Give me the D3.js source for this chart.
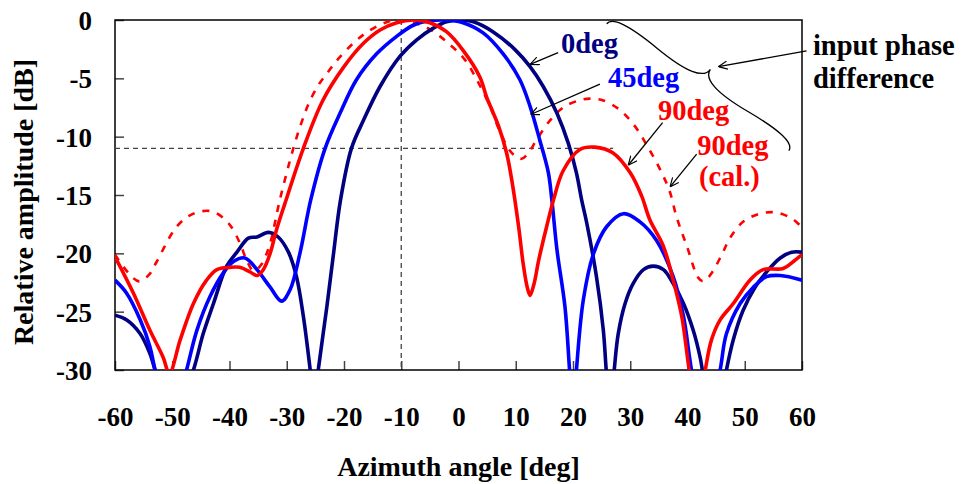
<!DOCTYPE html>
<html lang="en">
<head>
<meta charset="UTF-8">
<title>Relative amplitude vs azimuth angle</title>
<script src="https://cdn.jsdelivr.net/npm/d3@7/dist/d3.min.js"></script>
<style>
  html, body { margin: 0; padding: 0; background: #fff; }
  svg { display: block; font-family: "Liberation Serif", "Times New Roman", serif; font-weight: bold; }
</style>
</head>
<body>
<div id="chart"></div>
<script>
// ---- data (azimuth deg, relative amplitude dB) ----
const xTicks = [-60, -50, -40, -30, -20, -10, 0, 10, 20, 30, 40, 50, 60];
const yTicks = [0, -5, -10, -15, -20, -25, -30];

// 0deg input phase difference (measured)
const phase0 = [
  [-60, -25.3], [-58, -25.7], [-55.6, -26.9], [-53.9, -28.6], [-53, -30], [-49.8, -34.5], [-46.3, -30],
  [-44.6, -26.9], [-42.8, -24.3], [-40.5, -21.1], [-38.7, -19.9], [-36.7, -18.7], [-35.2, -18.6],
  [-33.2, -18.2], [-31.5, -18.6], [-29.7, -19.9], [-28.3, -22.0], [-27.1, -25.4], [-25.9, -30],
  [-25.2, -33], [-24.5, -30], [-23.0, -24.6], [-21.9, -20.3], [-20.6, -15.4], [-18.7, -11.0],
  [-16.6, -8.6], [-13.7, -5.7], [-10.2, -3.1], [-7.3, -1.7], [-4.4, -0.7], [-2.1, -0.15], [0.5, 0],
  [2.6, -0.15], [6.0, -1.0], [10.0, -2.6], [12.5, -4.0], [14.8, -5.7], [17.2, -8.0], [19.2, -10.6],
  [20.6, -13.1], [21.5, -15.4], [22.4, -17.4], [24.1, -22.0], [25.3, -26.6], [25.8, -30], [26.5, -34],
  [27.2, -30], [27.9, -26.9], [29.1, -24.3], [30.5, -22.6], [32.3, -21.4], [34.0, -21.1], [35.8, -21.4],
  [37.5, -22.6], [39.3, -24.3], [41.0, -26.6], [42.2, -28.9], [42.6, -30], [44.7, -36], [46.8, -30],
  [48.0, -27.4], [49.7, -24.9], [51.8, -22.9], [53.8, -21.6], [56.2, -20.4], [58.2, -19.9], [60, -19.9]
];

// 45deg
const phase45 = [
  [-60, -22.3], [-58, -23.4], [-55.6, -25.7], [-53.9, -28.0], [-53, -30], [-50.3, -35], [-47.5, -30],
  [-45.7, -26.6], [-43.4, -23.7], [-41.1, -21.7], [-39.3, -20.7], [-37.3, -20.4], [-35.2, -21.4],
  [-32.9, -22.9], [-30.9, -24.1], [-29.4, -23.1], [-27.7, -20.0], [-25.8, -15.4], [-23.3, -11.0],
  [-20.7, -8.0], [-17.8, -5.1], [-14.3, -2.9], [-10.8, -1.4], [-7.9, -0.45], [-5.0, -0.06], [-2.1, 0],
  [0.8, -0.23], [4.3, -1.1], [7.8, -2.9], [10.7, -5.1], [12.5, -7.4], [14.2, -10.3], [15.7, -13.1],
  [16.3, -15.4], [17.2, -19.7], [18.6, -24.6], [19.4, -30], [20.0, -34], [20.6, -30], [21.8, -24.0],
  [23.6, -20.0], [25.9, -17.7], [28.8, -16.6], [31.7, -17.3], [34.6, -18.9], [37.5, -22.0],
  [39.3, -25.4], [40.7, -30], [43.2, -36], [45.7, -30], [46.8, -26.9], [49.2, -24.3], [51.5, -22.9],
  [53.8, -22.0], [56.2, -21.9], [60, -22.3]
];

// 90deg (measured)
const phase90 = [
  [-60, -20.3], [-56.8, -23.4], [-53.9, -26.6], [-51.6, -28.9], [-50.5, -30.3], [-48.6, -27.4],
  [-46.3, -24.3], [-44.0, -22.3], [-42.2, -21.4], [-39.9, -21.2], [-38.2, -21.2], [-36.4, -21.6],
  [-35.2, -21.9], [-34.1, -21.4], [-32.9, -20.0], [-31.8, -18.0], [-30.3, -15.7], [-27.1, -11.0],
  [-23.7, -6.9], [-20.0, -4.0], [-16.6, -2.0], [-13.7, -0.86], [-10.8, -0.23], [-7.9, 0], [-5.0, -0.23],
  [-2.1, -1.0], [0.8, -2.6], [3.75, -4.9], [4.9, -6.6], [6.1, -8.0], [7.0, -9.1], [8.4, -11.4],
  [9.3, -13.7], [10.5, -17.7], [11.3, -20.9], [12.0, -22.9], [12.5, -23.6], [13.2, -22.6],
  [14.0, -20.6], [15.4, -17.7], [16.6, -15.4], [18.3, -12.9], [21.2, -11.1], [23.8, -10.9],
  [27.0, -11.4], [30.0, -13.1], [32.0, -15.1], [33.4, -17.1], [35.8, -19.4], [37.5, -22.3],
  [39.0, -25.4], [40.3, -30], [41.7, -34], [43.1, -30], [44.2, -27.4], [45.7, -25.7], [48.0, -24.3],
  [50.9, -22.3], [53.2, -21.4], [56.7, -21.3], [58.5, -20.7], [60, -20.1]
];

// 90deg (calculated)
const phase90cal = [
  [-60, -20.1], [-57.8, -21.6], [-55.8, -22.4], [-54.0, -21.8], [-52.7, -20.7], [-49.2, -17.7],
  [-46.3, -16.6], [-43.1, -16.4], [-40.2, -17.4], [-38.2, -19.1], [-37.0, -20.6], [-35.8, -21.5],
  [-34.5, -21.0], [-33.0, -19.3], [-31.2, -15.4], [-28.85, -11.0], [-27.5, -8.9], [-26.2, -7.2],
  [-24.5, -5.6], [-23.0, -4.6], [-21.3, -3.5], [-18.4, -2.0], [-16.0, -1.05], [-13.2, -0.3], [-10.8, 0],
  [-8.0, -0.2], [-5.0, -0.8], [-2.0, -1.9], [1.1, -3.4], [3.5, -5.4], [5.5, -7.4], [7.0, -9.3], [8.7, -11.0],
  [10.0, -11.7], [11.0, -11.9], [12.2, -11.4], [13.6, -10.3], [16.0, -8.6], [18.6, -7.4], [21.8, -6.8],
  [23.5, -6.75], [25.3, -6.9], [27.9, -7.6], [30.5, -8.9], [33.1, -10.9], [35.5, -13.1], [36.9, -14.7],
  [38.1, -16.9], [39.9, -19.4], [41.9, -22.1], [42.8, -22.4], [44.2, -21.7], [46.0, -20.1],
  [47.4, -18.7], [49.7, -17.3], [52.7, -16.6], [55.6, -16.5], [58.5, -17.1], [60, -17.8]
];

// reference lines
const refAngle = -10;
const refLevel = -11;
const refLevelEnd = 27;

// series labels: [text, angle, dB, color] (start of text baseline)
const labels = [
  ["0deg", 17.9, -2.85, "#000080"],
  ["45deg", 26.1, -5.75, "#0000ff"],
  ["90deg", 34.85, -8.6, "#ff0000"],
  ["90deg", 41.7, -11.6, "#ff0000"],
  ["(cal.)", 42.0, -14.25, "#ff0000"],
  ["input phase", 61.9, -3.0, "#000"],
  ["difference", 61.9, -5.85, "#000"]
];

// arrows: [fromAngle, fromDb, toAngle, toDb]
const arrows = [
  [17.4, -2.8, 12.5, -3.8],
  [24.7, -5.5, 12.6, -8.1],
  [35.65, -8.8, 29.65, -12.45],
  [41.6, -11.5, 36.95, -14.3],
  [60.8, -2.65, 45.4, -4.0]
];

// brace ends [angle, dB]
const braceLow = [57.7, -11.2];
const braceHigh = [25.9, -0.34];

// ---- chart ----
const W = 967, H = 484;
const margin = { top: 20, right: 165, bottom: 114, left: 115 };
const width = W - margin.left - margin.right;
const height = H - margin.top - margin.bottom;

const svg = d3.select('#chart').append('svg')
  .attr('width', W).attr('height', H);

const g = svg.append('g')
  .attr('transform', `translate(${margin.left},${margin.top})`);

const x = d3.scaleLinear().domain([-60, 60]).range([0, width]);
const y = d3.scaleLinear().domain([-30, 0]).range([height, 0]);

svg.append('defs').append('clipPath').attr('id', 'plotClip')
  .append('rect').attr('width', width).attr('height', height);

const arrowHead = svg.select('defs').append('marker')
  .attr('id', 'arrowHead')
  .attr('viewBox', '0 0 10 10')
  .attr('refX', 10).attr('refY', 5)
  .attr('markerWidth', 9).attr('markerHeight', 9)
  .attr('markerUnits', 'userSpaceOnUse')
  .attr('orient', 'auto-start-reverse');
arrowHead.append('path')
  .attr('d', 'M0,0.5 L10,5 L0,9.5')
  .attr('fill', 'none').attr('stroke', '#000').attr('stroke-width', 1.3);

// axes (ticks point inward), plain hyphen for negatives
const fmt = d => String(d);
const xAxis = g.append('g')
  .attr('transform', `translate(0,${height})`)
  .call(d3.axisBottom(x).tickValues(xTicks).tickSize(-9).tickFormat(fmt));
const yAxis = g.append('g')
  .call(d3.axisLeft(y).tickValues(yTicks).tickSize(-9).tickPadding(23).tickFormat(fmt));

[xAxis, yAxis].forEach(a => {
  a.select('.domain').remove();
  a.selectAll('.tick line').attr('stroke', '#444').attr('stroke-width', 1.5);
  a.selectAll('.tick text')
    .attr('font-family', '"Liberation Serif", serif')
    .attr('font-weight', 'bold')
    .attr('font-size', 27)
    .attr('fill', '#000');
});
xAxis.selectAll('.tick text').attr('dy', 0).attr('y', 56);
yAxis.selectAll('.tick text').attr('dy', '0.35em');

// frame
g.append('rect')
  .attr('width', width).attr('height', height)
  .attr('fill', 'none').attr('stroke', '#000').attr('stroke-width', 1.5);

// dashed reference lines
g.append('line')
  .attr('x1', x(refAngle)).attr('x2', x(refAngle))
  .attr('y1', y(0)).attr('y2', y(-30))
  .attr('stroke', '#444').attr('stroke-width', 1.3).attr('stroke-dasharray', '5 4');
g.append('line')
  .attr('x1', x(-60)).attr('x2', x(refLevelEnd))
  .attr('y1', y(refLevel)).attr('y2', y(refLevel))
  .attr('stroke', '#444').attr('stroke-width', 1.3).attr('stroke-dasharray', '5 4');

// curves
const line = d3.line()
  .x(d => x(d[0]))
  .y(d => y(d[1]))
  .curve(d3.curveCatmullRom.alpha(0.5));

const plot = g.append('g').attr('clip-path', 'url(#plotClip)');
const series = [
  { data: phase90cal, color: '#ff0000', width: 2.6, dash: '7 8' },
  { data: phase0, color: '#000080', width: 3.6, dash: null },
  { data: phase45, color: '#0000ff', width: 3.6, dash: null },
  { data: phase90, color: '#ff0000', width: 3.6, dash: null }
];
series.forEach(s => {
  plot.append('path')
    .datum(s.data)
    .attr('fill', 'none')
    .attr('stroke', s.color)
    .attr('stroke-width', s.width)
    .attr('stroke-linejoin', 'round')
    .attr('stroke-dasharray', s.dash)
    .attr('d', line);
});

// annotations
g.selectAll('.lbl')
  .data(labels)
  .enter().append('text')
    .attr('class', 'lbl')
    .attr('x', d => x(d[1]))
    .attr('y', d => y(d[2]))
    .attr('fill', d => d[3])
    .attr('font-size', 28.5)
    .text(d => d[0]);

g.selectAll('.arrow')
  .data(arrows)
  .enter().append('line')
    .attr('class', 'arrow')
    .attr('x1', d => x(d[0])).attr('y1', d => y(d[1]))
    .attr('x2', d => x(d[2])).attr('y2', d => y(d[3]))
    .attr('stroke', '#000').attr('stroke-width', 1.3)
    .attr('marker-end', 'url(#arrowHead)');

// curly brace between two points, bulging away from the curves
function bracePath(x1, y1, x2, y2, w, q) {
  const len = Math.hypot(x1 - x2, y1 - y2);
  const dx = (x1 - x2) / len, dy = (y1 - y2) / len;
  const qx1 = x1 + q * w * dy, qy1 = y1 - q * w * dx;
  const qx2 = (x1 - 0.25 * len * dx) + (1 - q) * w * dy;
  const qy2 = (y1 - 0.25 * len * dy) - (1 - q) * w * dx;
  const tx = (x1 - 0.5 * len * dx) + w * dy;
  const ty = (y1 - 0.5 * len * dy) - w * dx;
  const qx3 = x2 + q * w * dy, qy3 = y2 - q * w * dx;
  const qx4 = (x1 - 0.75 * len * dx) + (1 - q) * w * dy;
  const qy4 = (y1 - 0.75 * len * dy) - (1 - q) * w * dx;
  return `M${x1},${y1} Q${qx1},${qy1} ${qx2},${qy2} T${tx},${ty} ` +
         `M${x2},${y2} Q${qx3},${qy3} ${qx4},${qy4} T${tx},${ty}`;
}
g.append('path')
  .attr('d', bracePath(x(braceLow[0]), y(braceLow[1]), x(braceHigh[0]), y(braceHigh[1]), 22, 0.6))
  .attr('fill', 'none').attr('stroke', '#000').attr('stroke-width', 1.3);

// axis titles
svg.append('text')
  .attr('x', margin.left + width / 2).attr('y', 476)
  .attr('text-anchor', 'middle')
  .attr('font-size', 28)
  .text('Azimuth angle [deg]');
svg.append('text')
  .attr('transform', 'translate(33,202) rotate(-90)')
  .attr('text-anchor', 'middle')
  .attr('font-size', 28)
  .text('Relative amplitude [dB]');
</script>
</body>
</html>
